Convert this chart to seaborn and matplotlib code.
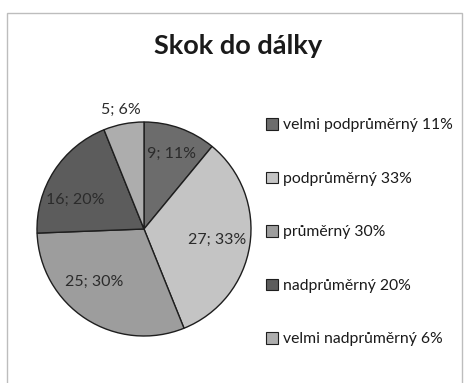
import numpy as np
import matplotlib
matplotlib.use("Agg")
import matplotlib.pyplot as plt
import matplotlib.patches as mpatches
import seaborn as sns

# Results of the long-jump test
categories = ["velmi podprůměrný", "podprůměrný", "průměrný", "nadprůměrný", "velmi nadprůměrný"]
counts = [9, 27, 25, 16, 5]
percents = [11, 33, 30, 20, 6]
title = "Skok do dálky"

sns.set_theme(style="white")
plt.rcParams["font.family"] = ["Lato", "DejaVu Sans"]

colors = ["#6c6c6c", "#c4c4c4", "#9d9d9d", "#5c5c5c", "#adadad"]

W, H = 468, 383
fig = plt.figure(figsize=(W / 100, H / 100), dpi=100)
fig.patch.set_facecolor("white")

# outer chart frame
frame = mpatches.Rectangle((7 / W, -0.05), (462 - 7) / W, 1.05 - 13 / H,
                           transform=fig.transFigure, fill=False,
                           edgecolor="#bdbdbd", linewidth=1.0)
fig.patches.append(frame)

fig.text(238 / W, 1 - 46 / H, title, ha="center", va="center",
         fontsize=19.5, fontweight="bold", color="#1a1a1a")

# pie axes, centred at (144, 229) px with radius ~107 px
r_px = 107
cx, cy = 144, 229
lim = 1.03
side = 2 * r_px * lim
ax = fig.add_axes([(cx - side / 2) / W, (H - cy - side / 2) / H, side / W, side / H])

wedges, _ = ax.pie(counts, colors=colors, startangle=90, counterclock=False,
                   radius=1.0,
                   wedgeprops=dict(edgecolor="#1e1e1e", linewidth=1.0))
ax.set_xlim(-lim, lim)
ax.set_ylim(-lim, lim)
ax.set_aspect("equal")
ax.axis("off")

# data labels "count; percent" placed along each wedge's mid angle
dists = [0.75, 0.69, 0.68, 0.70, 1.13]
angle_shift = [0, 0, 10, -10, 0]
total = float(sum(counts))
cum = 0.0
for c, p, d, sh in zip(counts, percents, dists, angle_shift):
    mid = 360.0 * (cum + c / 2.0) / total + sh
    cum += c
    theta = np.deg2rad(90 - mid)
    ax.text(d * np.cos(theta), d * np.sin(theta), f"{c}; {p}%",
            ha="center", va="center", fontsize=11.5, color="#2b2b2b")

handles = [mpatches.Patch(facecolor=col, edgecolor="#1e1e1e", linewidth=0.8)
           for col in colors]
labels = [f"{cat} {p}%" for cat, p in zip(categories, percents)]
fig.legend(handles, labels, loc="upper left",
           bbox_to_anchor=(260 / W, 1 - 112 / H), frameon=False,
           fontsize=11.3, labelspacing=2.5, handlelength=0.75,
           handleheight=0.75, handletextpad=0.3, borderaxespad=0,
           labelcolor="#1a1a1a")

fig.savefig("out.png", dpi=100, facecolor="white")
